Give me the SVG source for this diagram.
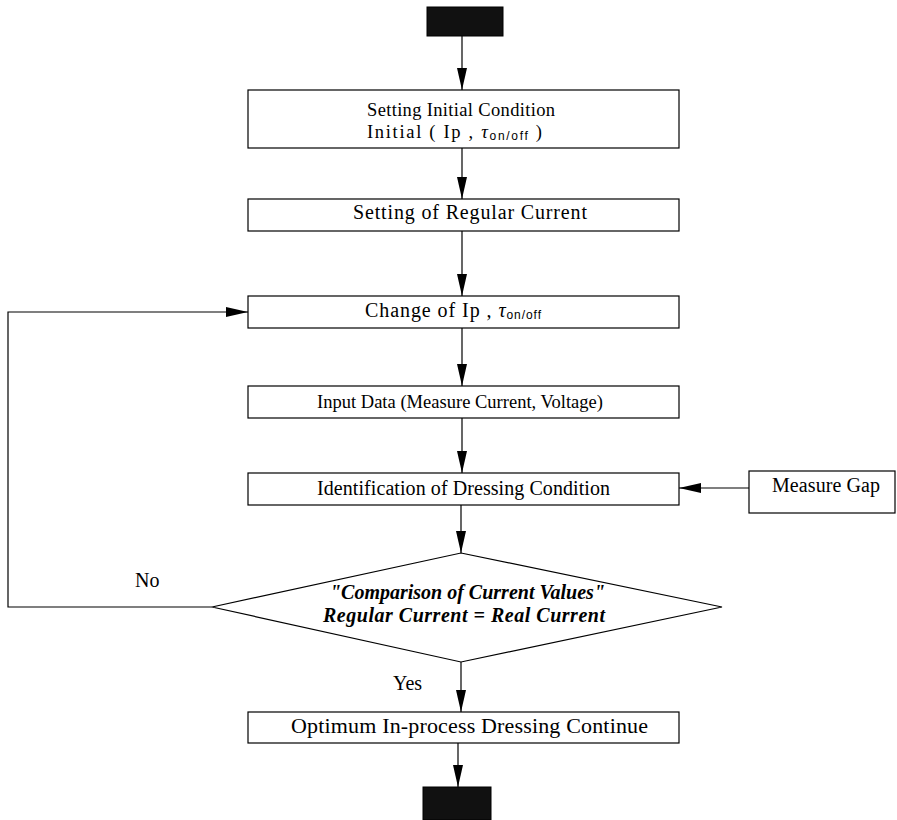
<svg xmlns="http://www.w3.org/2000/svg" width="897" height="820" viewBox="0 0 897 820">
<style>
.box{fill:#fff;stroke:#000;stroke-width:1.2}
.term{fill:#111;stroke:#000;stroke-width:1}
.t{font-family:"Liberation Serif","Times New Roman",serif;font-size:20px;fill:#000}
.bi{font-family:"Liberation Serif","Times New Roman",serif;font-size:20px;font-weight:bold;font-style:italic;fill:#000}
.sub{font-family:"Liberation Sans",Arial,sans-serif;font-size:12px}
.tau{font-style:italic}
.ln{fill:none;stroke:#000;stroke-width:1.2}
</style>
<defs>
<marker id="ah" viewBox="0 0 22 10" refX="22" refY="5" markerWidth="22" markerHeight="10" markerUnits="userSpaceOnUse" orient="auto">
<path d="M0,0 L22,5 L0,10 Z" fill="#000"/>
</marker>
</defs>
<rect width="897" height="820" fill="#fff"/>
<g id="start"><rect class="term" x="427" y="7" width="76" height="29"/></g>
<g id="n1"><rect class="box" x="248" y="90" width="431" height="58"/>
<text class="t" x="367" y="116" textLength="188" lengthAdjust="spacing" style="font-size:18.5px">Setting Initial Condition</text>
<text class="t" x="367" y="138" textLength="175" lengthAdjust="spacing" style="font-size:18.5px">Initial ( Ip , <tspan class="tau">τ</tspan><tspan class="sub" dy="2">on/off</tspan><tspan dy="-2"> )</tspan></text></g>
<g id="n2"><rect class="box" x="248" y="199" width="431" height="32"/>
<text class="t" x="353" y="219" textLength="234" lengthAdjust="spacing">Setting of Regular Current</text></g>
<g id="n3"><rect class="box" x="248" y="296" width="431" height="32"/>
<text class="t" x="365" y="317" textLength="176" lengthAdjust="spacing">Change of Ip , <tspan class="tau">τ</tspan><tspan class="sub" dy="2">on/off</tspan></text></g>
<g id="n4"><rect class="box" x="248" y="386" width="431" height="32"/>
<text class="t" x="317" y="408" textLength="286" lengthAdjust="spacing" style="font-size:18.5px">Input Data (Measure Current, Voltage)</text></g>
<g id="n5"><rect class="box" x="248" y="473" width="431" height="32"/>
<text class="t" x="317" y="495" textLength="293" lengthAdjust="spacing">Identification of Dressing Condition</text></g>
<g id="gap"><rect class="box" x="749" y="471" width="146" height="42"/>
<text class="t" x="772" y="492" textLength="108" lengthAdjust="spacing">Measure Gap</text></g>
<g id="dec"><polygon class="box" points="461,553 722,607 461,662 212,607"/>
<text class="bi" x="330" y="599" textLength="275" lengthAdjust="spacing">"Comparison of Current Values"</text>
<text class="bi" x="323" y="622" textLength="282" lengthAdjust="spacing">Regular Current = Real Current</text></g>
<g id="n6"><rect class="box" x="248" y="712" width="431" height="31"/>
<text class="t" x="291" y="733" textLength="357" lengthAdjust="spacing" style="font-size:22px">Optimum In-process Dressing Continue</text></g>
<g id="end"><rect class="term" x="423" y="787" width="68" height="33"/></g>
<g id="labels">
<text class="t" x="135" y="587">No</text>
<text class="t" x="393" y="690">Yes</text>
</g>
<g id="connectors">
<line class="ln" x1="462" y1="36" x2="462" y2="90" marker-end="url(#ah)"/>
<line class="ln" x1="462" y1="148" x2="462" y2="199" marker-end="url(#ah)"/>
<line class="ln" x1="462" y1="231" x2="462" y2="296" marker-end="url(#ah)"/>
<line class="ln" x1="462" y1="328" x2="462" y2="386" marker-end="url(#ah)"/>
<line class="ln" x1="462" y1="418" x2="462" y2="473" marker-end="url(#ah)"/>
<line class="ln" x1="461" y1="505" x2="461" y2="553" marker-end="url(#ah)"/>
<line class="ln" x1="461" y1="662" x2="461" y2="712" marker-end="url(#ah)"/>
<line class="ln" x1="458" y1="743" x2="458" y2="787" marker-end="url(#ah)"/>
<line class="ln" x1="749" y1="488" x2="679" y2="488" marker-end="url(#ah)"/>
<polyline class="ln" points="212,607 8,607 8,312 248,312" marker-end="url(#ah)"/>
</g>
</svg>
